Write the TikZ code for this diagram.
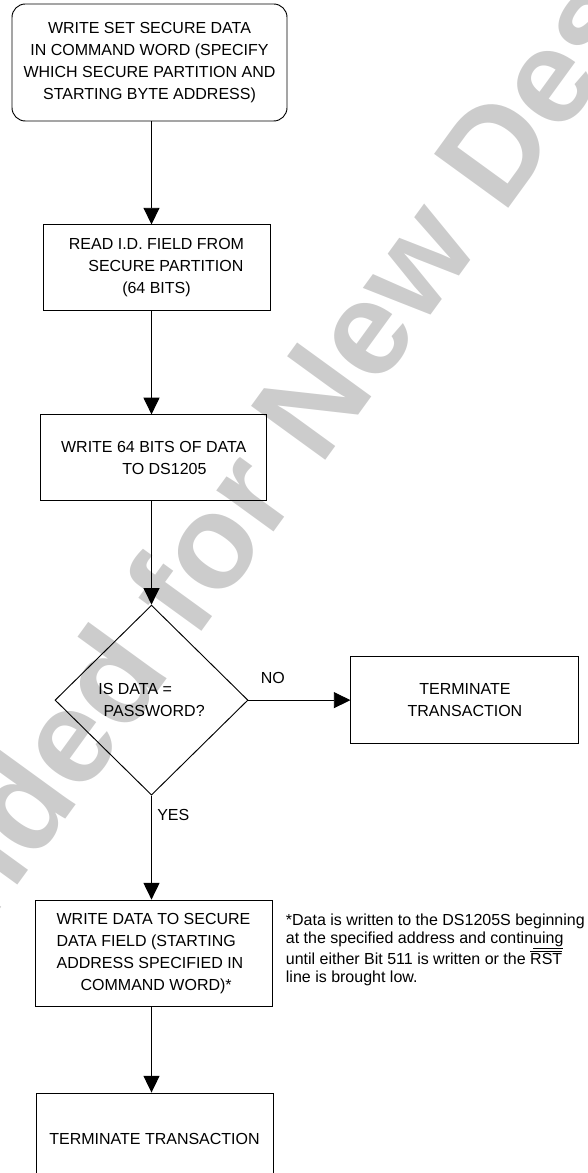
\documentclass[tikz,border=0pt]{standalone}
\usepackage{fontspec}
\setmainfont{Liberation Sans}
\usetikzlibrary{positioning,shapes.geometric,arrows.meta}

\begin{document}
\begin{tikzpicture}[x=0.75pt,y=-0.75pt,line width=0.7pt,
  every node/.style={font=\fontsize{12}{16.5}\selectfont},
  stepbox/.style={draw,align=center,inner sep=2pt},
  startbox/.style={stepbox,rounded corners=10pt,minimum width=206.25pt,minimum height=87.75pt},
  decision/.style={draw,diamond,align=left,inner sep=0pt,minimum width=144.75pt,minimum height=142.5pt},
  tag/.style={inner sep=0pt},
  arr/.style={-{Triangle[length=12.5pt,width=12pt]}}]
\useasboundingbox (0,0) rectangle (587,1173);
\clip (0,0) rectangle (587,1173);
\node(wmark)     [rotate=54,text=black!20,font=\fontsize{100}{100}\selectfont\bfseries] at (106,705) {Not Recommended for New Designs};
\node(setdata)   [startbox] at (149.5,62.5) {WRITE SET SECURE DATA\\IN COMMAND WORD (SPECIFY\\WHICH SECURE PARTITION AND\\STARTING BYTE ADDRESS)};
\node(readid)    [stepbox,minimum width=170.25pt,minimum height=64.5pt,below=77.25pt of setdata,xshift=5.25pt] {READ I.D. FIELD FROM\\\hspace*{14pt}SECURE PARTITION\\(64 BITS)};
\node(writebits) [stepbox,minimum width=169.5pt,minimum height=64.5pt,below=77.25pt of readid,xshift=-2.1pt] {WRITE 64 BITS OF DATA\\\hspace*{16pt}TO DS1205};
\node(pwcheck)   [decision,below=77.5pt of writebits,xshift=-1.65pt] {IS DATA =\\\hspace*{4pt}PASSWORD?};
\node(abort)     [stepbox,minimum width=171pt,minimum height=65.25pt,right=76.5pt of pwcheck] {TERMINATE\\TRANSACTION};
\node(no)        [tag,above right=12pt and 9pt of pwcheck.east] {NO};
\node(yes)       [tag,below right=10pt and 4pt of pwcheck.south] {YES};
\node(writedata) [stepbox,align=left,minimum width=177.75pt,minimum height=79.5pt,below=78pt of pwcheck,xshift=1.5pt] {WRITE DATA TO SECURE\\DATA FIELD (STARTING\\ADDRESS SPECIFIED IN\\\hspace*{18pt}COMMAND WORD)*};
\node(finish)    [stepbox,minimum width=177.75pt,minimum height=69pt,below=64.5pt of writedata,xshift=0.75pt] {TERMINATE TRANSACTION};
\node(remark)    [tag,align=left,anchor=north west,font=\fontsize{12}{13.5}\selectfont] at ([xshift=9.75pt,yshift=-10pt]writedata.north east) {*Data is written to the DS1205S beginning\\at the specified address and contin\underline{uing}\\until either Bit 511 is written or the $\overline{\mbox{RST}}$\\line is brought low.};
\draw[arr] (setdata.south -| pwcheck) -- (readid.north -| pwcheck);
\draw[arr] (readid.south -| pwcheck) -- (writebits.north -| pwcheck);
\draw[arr] (writebits.south -| pwcheck) -- (pwcheck.north);
\draw[arr] (pwcheck.east) -- (abort.west);
\draw[arr] (pwcheck.south) -- (writedata.north -| pwcheck);
\draw[arr] (writedata.south -| pwcheck) -- (finish.north -| pwcheck);
\end{tikzpicture}
\end{document}
